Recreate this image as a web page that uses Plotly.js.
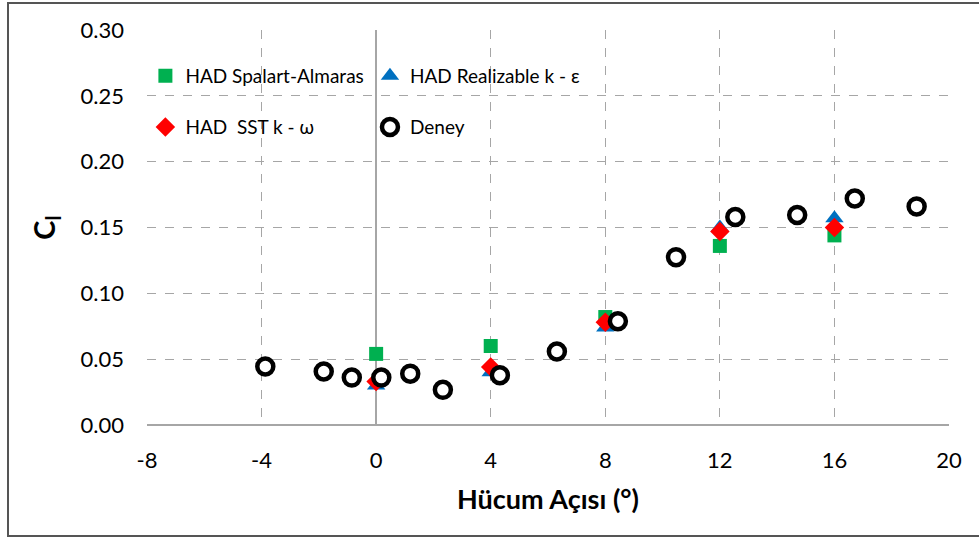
<!DOCTYPE html>
<html>
<head>
<meta charset="utf-8">
<script src="https://cdn.plot.ly/plotly-3.0.1.min.js"></script>
<style>
  html, body { margin: 0; padding: 0; background: #ffffff; }
  #chart { width: 979px; height: 537px; }
  #frame { position: absolute; left: 7px; top: 2px; width: 990px; height: 531px;
           border: 2px solid #555555; pointer-events: none; box-shadow: 1px 1px 1px #aaaaaa; }
</style>
</head>
<body>
<div id="chart"></div>
<div id="frame"></div>
<script>
// ---- data ----
const xModel = [0, 4, 8, 12, 16];
const clSpalart = [0.054, 0.060, 0.082, 0.136, 0.144];
const clRealizable = [0.030, 0.040, 0.074, 0.150, 0.157];
const clSST = [0.033, 0.044, 0.078, 0.147, 0.150];

const xDeney = [-3.87, -1.83, -0.85, 0.18, 1.19, 2.33, 4.32, 6.31, 8.44, 10.47, 12.54, 14.70, 16.71, 18.87];
const clDeney = [0.0444, 0.0406, 0.036, 0.036, 0.039, 0.0267, 0.0378, 0.0558, 0.0788, 0.1275, 0.158, 0.1595, 0.172, 0.166];

const names = ['HAD Spalart-Almaras', 'HAD Realizable k - ε', 'HAD  SST k - ω', 'Deney'];
const xTicks = [-8, -4, 0, 4, 8, 12, 16, 20];
const xTickText = ['-8', '-4', '0', '4', '8', '12', '16', '20'];
const yTicks = [0, 0.05, 0.10, 0.15, 0.20, 0.25, 0.30];
const yTickText = ['0.00', '0.05', '0.10', '0.15', '0.20', '0.25', '0.30'];

const FONT = 'Lato, "Open Sans", sans-serif';

const traces = [
  { x: xModel, y: clSpalart, name: names[0], type: 'scatter', mode: 'markers',
    marker: { symbol: 'square', size: 14, color: '#00b050' }, legend: 'legend' },
  { x: xModel, y: clRealizable, name: names[1], type: 'scatter', mode: 'markers',
    marker: { symbol: 'triangle-up', size: 16, color: '#0070c0' }, legend: 'legend2' },
  { x: xModel, y: clSST, name: names[2], type: 'scatter', mode: 'markers',
    marker: { symbol: 'diamond', size: 15, color: '#ff0000' }, legend: 'legend3' },
  { x: xDeney, y: clDeney, name: names[3], type: 'scatter', mode: 'markers',
    marker: { symbol: 'circle', size: 16, color: '#ffffff', line: { color: '#000000', width: 4.5 } },
    legend: 'legend4' }
];

const legFont = { family: FONT, size: 19, color: '#000000' };
function leg(x, y) {
  return { x: x, y: y, xanchor: 'left', yanchor: 'middle', orientation: 'h',
           bgcolor: 'rgba(255,255,255,0)', borderwidth: 0, font: legFont };
}

const layout = {
  width: 979, height: 537,
  margin: { l: 147, r: 30, t: 30, b: 112 },
  paper_bgcolor: '#ffffff', plot_bgcolor: '#ffffff',
  font: { family: FONT, color: '#000000' },
  showlegend: true,
  legend: leg(-0.002, 0.8835),
  legend2: leg(0.278, 0.8835),
  legend3: leg(-0.002, 0.754),
  legend4: leg(0.278, 0.754),
  xaxis: {
    range: [-8, 20], tickvals: xTicks, ticktext: xTickText,
    showgrid: true, gridcolor: '#a6a6a6', griddash: 'dash', gridwidth: 1,
    zeroline: true, zerolinecolor: '#a6a6a6', zerolinewidth: 1.5,
    showline: false, ticks: '', ticklabelstandoff: 20,
    tickfont: { family: FONT, size: 22, color: '#000000' },
    title: { text: '<b>Hücum Açısı (°)</b>', font: { family: FONT, size: 27, color: '#000000' }, standoff: 18 }
  },
  yaxis: {
    range: [0, 0.3], tickvals: yTicks, ticktext: yTickText,
    showgrid: true, gridcolor: '#a6a6a6', griddash: 'dash', gridwidth: 1,
    zeroline: true, zerolinecolor: '#a6a6a6', zerolinewidth: 1.5,
    showline: false, ticks: '', ticklabelstandoff: 22,
    tickfont: { family: FONT, size: 22, color: '#000000' },
    title: { text: '<b>C<sub>l</sub></b>', font: { family: FONT, size: 29, color: '#000000' }, standoff: 16 }
  }
};

Plotly.newPlot('chart', traces, layout, { displayModeBar: false, responsive: false });
</script>
</body>
</html>
